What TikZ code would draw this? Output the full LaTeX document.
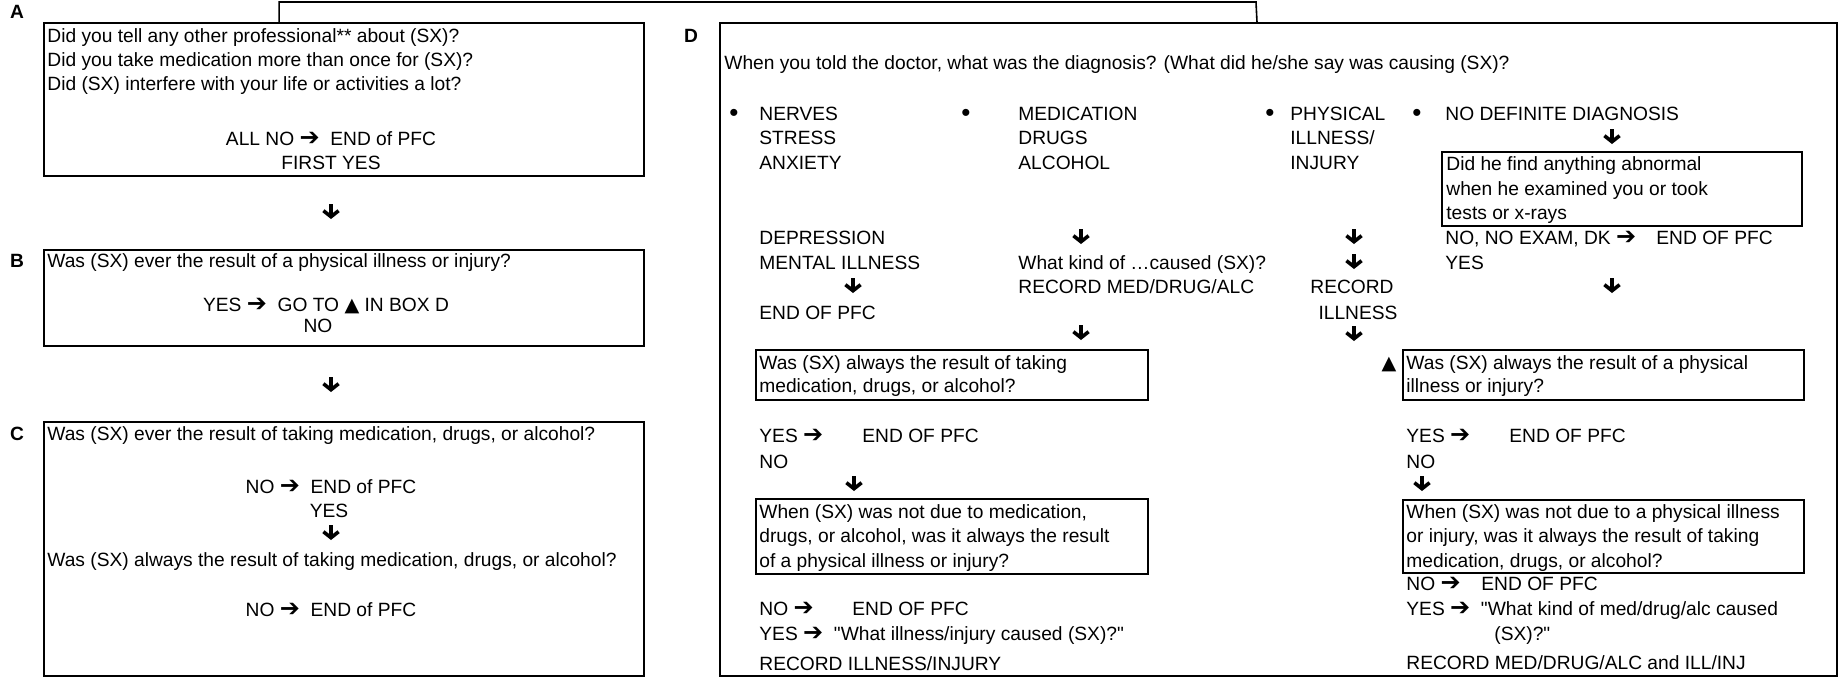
\documentclass[tikz,border=0pt]{standalone}
\usepackage{fontspec}
\setmainfont{Liberation Sans}[Ligatures=TeXOff]
\newfontfamily\sym{DejaVu Sans}
\usetikzlibrary{arrows.meta,calc}
\newcommand{\arr}{{\sym\bfseries\fontsize{12}{12}\selectfont\char"2794}}
\newcommand{\tri}{{\sym\char"25B2}}
\newcommand{\bul}{{\fontsize{13}{12}\selectfont\textbullet}}
\tikzset{
  txt/.style={anchor=base west,inner sep=0pt},
  mid/.style={anchor=base,inner sep=0pt},
  lbl/.style={anchor=base,inner sep=0pt,font=\fontsize{9.6}{12}\selectfont\bfseries},
  frame/.style={draw,line width=1.1pt,anchor=north west,inner sep=0pt},
  link/.style={line width=0.8pt},
  dnarrow/.pic={\draw[line width=1.8pt,-{Straight Barb[length=3pt,width=7.6pt]}] (0,-8)--(0,7);}
}
\begin{document}
\begin{tikzpicture}[x=0.5pt,y=-0.5pt,font=\fontsize{9.6}{12}\selectfont]
\useasboundingbox (0,0) rectangle (1844,677);
\coordinate (rail) at (1256,2);
% frames
\node[frame,minimum width=300pt,minimum height=76.5pt] (A) at (43,22) {};
\node[frame,minimum width=300pt,minimum height=48pt] (B) at (43,249) {};
\node[frame,minimum width=300pt,minimum height=127pt] (C) at (43,421) {};
\node[frame,minimum width=558.5pt,minimum height=326.5pt] (D) at (719,22) {};
\node[frame,minimum width=180pt,minimum height=37pt] (find) at (1441,151) {};
\node[frame,minimum width=196pt,minimum height=25pt] (medq) at (755,349) {};
\node[frame,minimum width=196pt,minimum height=37.5pt] (medn) at (755,498) {};
\node[frame,minimum width=200.5pt,minimum height=25pt] (phyq) at (1402,349) {};
\node[frame,minimum width=200.5pt,minimum height=36.5pt] (phyn) at (1402,499) {};
\draw[link] ($(A.north west)!0.392!(A.north east)$) |- (rail) -- ($(D.north west)!0.4807!(D.north east)$);
\node[lbl] (lA) at (17,18) {A};
\node[lbl] (lB) at (17,267) {B};
\node[lbl] (lC) at (17,440) {C};
\node[lbl] (lD) at (691,42) {D};
% box A
\node[txt] (a1) at (47,42) {Did you tell any other professional** about (SX)?};
\node[txt] (a2) at (47,66) {Did you take medication more than once for (SX)?};
\node[txt] (a3) at (47,90) {Did (SX) interfere with your life or activities a lot?};
\node[mid] (a4) at (331,145) {ALL NO \arr\ \ END of PFC};
\node[mid] (a5) at (331,169) {FIRST YES};
\pic at (331,212) {dnarrow};
% box B
\node[txt] (b1) at (47,267) {Was (SX) ever the result of a physical illness or injury?};
\node[mid] (b2) at (326,311) {YES \arr\ \ GO TO \tri\ IN BOX D};
\node[mid] (b3) at (318,332) {NO};
\pic at (331,385) {dnarrow};
% box C
\node[txt] (c1) at (47,440) {Was (SX) ever the result of taking medication, drugs, or alcohol?};
\node[mid] (c2) at (331,493) {NO \arr\ \ END of PFC};
\node[mid] (c3) at (329,517) {YES};
\pic at (331,533) {dnarrow};
\node[txt] (c4) at (47,566) {Was (SX) always the result of taking medication, drugs, or alcohol?};
\node[mid] (c5) at (331,616) {NO \arr\ \ END of PFC};
% box D
\node[txt] (d0) at (724,69) {When you told the doctor, what was the diagnosis? (What did he/she say was causing (SX)?};
\node[mid] (p1) at (734,121) {\bul};
\node[mid] (p2) at (966,121) {\bul};
\node[mid] (p3) at (1270,121) {\bul};
\node[mid] (p4) at (1417,121) {\bul};
\node[txt] (n1) at (759,120) {NERVES};
\node[txt] (n2) at (759,144) {STRESS};
\node[txt] (n3) at (759,169) {ANXIETY};
\node[txt] (n4) at (759,244) {DEPRESSION};
\node[txt] (n5) at (759,269) {MENTAL ILLNESS};
\pic at (853,286) {dnarrow};
\node[txt] (n6) at (759,319) {END OF PFC};
\node[txt] (m1) at (1018,120) {MEDICATION};
\node[txt] (m2) at (1018,144) {DRUGS};
\node[txt] (m3) at (1018,169) {ALCOHOL};
\pic at (1081,237) {dnarrow};
\node[txt] (m4) at (1018,269) {What kind of …caused (SX)?};
\node[txt] (m5) at (1018,293) {RECORD MED/DRUG/ALC};
\pic at (1081,333) {dnarrow};
\node[txt] (i1) at (1290,120) {PHYSICAL};
\node[txt] (i2) at (1290,144) {ILLNESS/};
\node[txt] (i3) at (1290,169) {INJURY};
\pic at (1354,237) {dnarrow};
\pic at (1354,262) {dnarrow};
\node[mid] (i4) at (1352,293) {RECORD};
\node[mid] (i5) at (1358,319) {ILLNESS};
\pic at (1354,334) {dnarrow};
\node[txt] (f1) at (1445,120) {NO DEFINITE DIAGNOSIS};
\pic at (1612,137) {dnarrow};
\node[txt] (f2) at (1446,170) {Did he find anything abnormal};
\node[txt] (f3) at (1446,195) {when he examined you or took};
\node[txt] (f4) at (1446,219) {tests or x-rays};
\node[txt] (f5) at (1445,244) {NO, NO EXAM, DK \arr};
\node[txt] (f6) at (1656,244) {END OF PFC};
\node[txt] (f7) at (1445,269) {YES};
\pic at (1612,286) {dnarrow};
% lower left of D
\node[txt] (q1) at (759,369) {Was (SX) always the result of taking};
\node[txt] (q2) at (759,392) {medication, drugs, or alcohol?};
\node[txt] (q3) at (759,442) {YES \arr};
\node[txt] (q4) at (862,442) {END OF PFC};
\node[txt] (q5) at (759,468) {NO};
\pic at (854,484) {dnarrow};
\node[txt] (q6) at (759,518) {When (SX) was not due to medication,};
\node[txt] (q7) at (759,542) {drugs, or alcohol, was it always the result};
\node[txt] (q8) at (759,567) {of a physical illness or injury?};
\node[txt] (q9) at (759,615) {NO \arr};
\node[txt] (q10) at (852,615) {END OF PFC};
\node[txt] (q11) at (759,640) {YES \arr\ \ "What illness/injury caused (SX)?"};
\node[txt] (q12) at (759,670) {RECORD ILLNESS/INJURY};
% lower right of D
\node[mid] (r0) at (1389,369) {\tri};
\node[txt] (r1) at (1406,369) {Was (SX) always the result of a physical};
\node[txt] (r2) at (1406,392) {illness or injury?};
\node[txt] (r3) at (1406,442) {YES \arr};
\node[txt] (r4) at (1509,442) {END OF PFC};
\node[txt] (r5) at (1406,468) {NO};
\pic at (1422,484) {dnarrow};
\node[txt] (r6) at (1406,518) {When (SX) was not due to a physical illness};
\node[txt] (r7) at (1406,542) {or injury, was it always the result of taking};
\node[txt] (r8) at (1406,567) {medication, drugs, or alcohol?};
\node[txt] (r9) at (1406,590) {NO \arr};
\node[txt] (r10) at (1481,590) {END OF PFC};
\node[txt] (r11) at (1406,615) {YES \arr\ \ "What kind of med/drug/alc caused};
\node[txt] (r12) at (1494,640) {(SX)?"};
\node[txt] (r13) at (1406,669) {RECORD MED/DRUG/ALC and ILL/INJ};
\end{tikzpicture}
\end{document}
